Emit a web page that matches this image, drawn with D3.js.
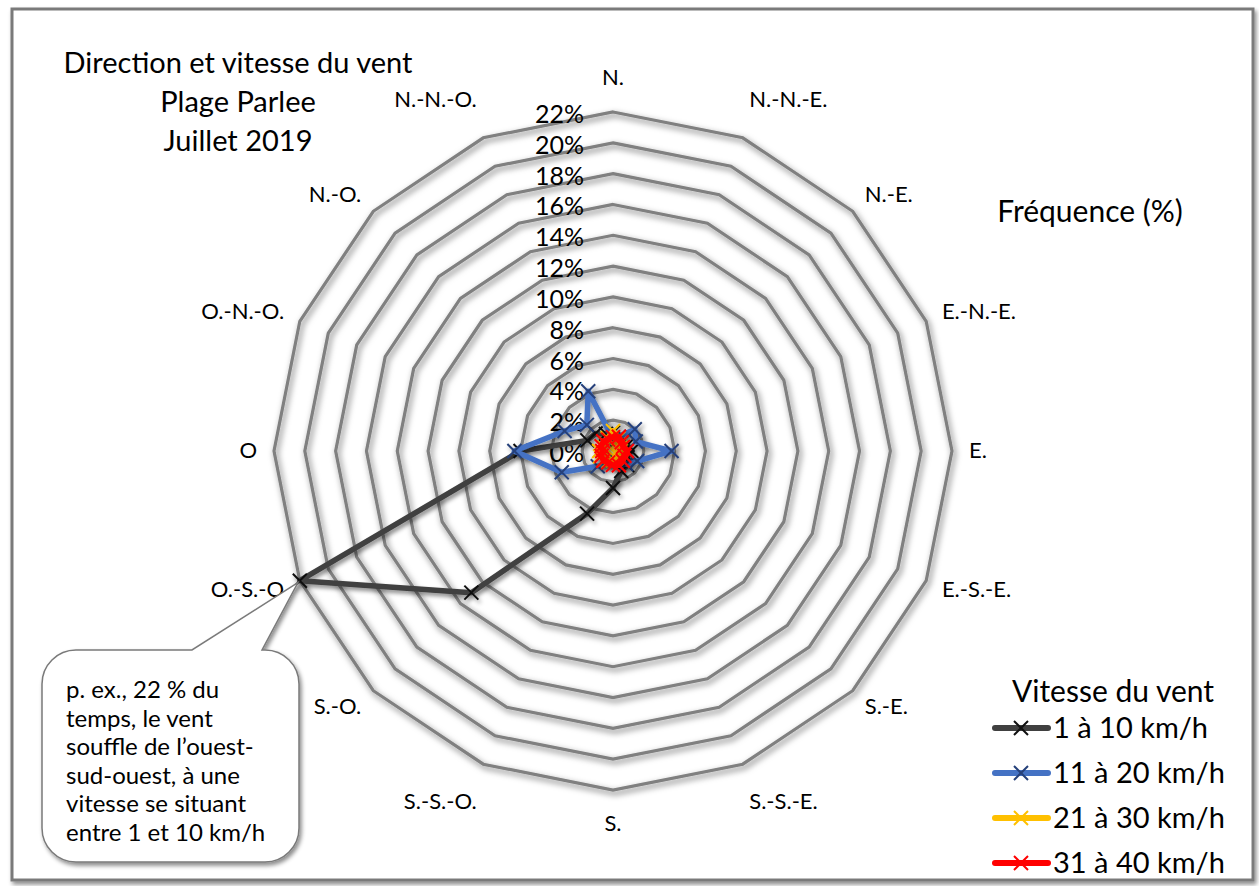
<!DOCTYPE html>
<html><head><meta charset="utf-8">
<script src="https://cdn.jsdelivr.net/npm/d3@7/dist/d3.min.js"></script>
<style>
html,body{margin:0;padding:0;background:#fff;}
svg{display:block;font-family:Lato,"Noto Sans",sans-serif;}
</style></head>
<body>
<svg id="chart" width="1259" height="886"></svg>
<script>
// ---- data ----
const directions = ["N.","N.-N.-E.","N.-E.","E.-N.-E.","E.","E.-S.-E.","S.-E.","S.-S.-E.","S.","S.-S.-O.","S.-O.","O.-S.-O","O","O.-N.-O.","N.-O.","N.-N.-O."];
const seriesNames = ["1 à 10 km/h","11 à 20 km/h","21 à 30 km/h","31 à 40 km/h"];
const speed1to10  = [1.2, 0.8, 0.9, 1.0, 1.2, 1.0, 1.3, 1.4, 2.4, 4.4, 13.0, 22.0, 6.0, 1.8, 1.6, 1.2];
const speed11to20 = [0.8, 1.0, 2.0, 1.6, 3.8, 1.7, 1.2, 0.6, 0.5, 0.8, 1.4, 3.6, 6.4, 3.4, 2.4, 4.2];
const speed21to30 = [1.3, 0.9, 0.6, 0.5, 0.5, 0.4, 0.4, 0.5, 0.6, 0.7, 0.8, 0.9, 0.9, 0.6, 0.7, 0.9];
const speed31to40 = [0.9, 1.0, 0.8, 0.7, 0.9, 0.8, 0.9, 1.0, 0.9, 0.8, 0.9, 0.8, 0.7, 0.8, 0.9, 0.8];
const tickValues = [0,2,4,6,8,10,12,14,16,18,20,22];
const tickLabels = ["0%","2%","4%","6%","8%","10%","12%","14%","16%","18%","20%","22%"];
const titleLines = ["Direction et vitesse du vent","Plage Parlee","Juillet 2019"];
const calloutLines = ["p. ex., 22 % du","temps, le vent","souffle de l’ouest-","sud-ouest, à une","vitesse se situant","entre 1 et 10 km/h"];

const seriesData = [speed1to10, speed11to20, speed21to30, speed31to40];
const lineColors = ["#404040","#4472C4","#FFC000","#FF0000"];
const markColors = ["#111111","#25407A","#FFC000","#FF0000"];

// ---- layout ----
const svg = d3.select("#chart");
const cx = 613, cy = 451, R = 339;

const defs = svg.append("defs");
const f = defs.append("filter").attr("id","shadow").attr("x","-20%").attr("y","-20%").attr("width","140%").attr("height","140%");
f.append("feDropShadow").attr("dx",2).attr("dy",3).attr("stdDeviation",3).attr("flood-color","#000").attr("flood-opacity",0.55);
const f2 = defs.append("filter").attr("id","shadow2").attr("x","-20%").attr("y","-20%").attr("width","140%").attr("height","140%");
f2.append("feDropShadow").attr("dx",2).attr("dy",3).attr("stdDeviation",2).attr("flood-color","#000").attr("flood-opacity",0.45);

// frame
svg.append("rect").attr("x",12).attr("y",9).attr("width",1241).attr("height",871)
  .attr("fill","#fff").attr("stroke","#7a7a7a").attr("stroke-width",3).attr("filter","url(#shadow2)");

const r = d3.scaleLinear().domain([0,22]).range([0,R]);
const angle = d3.scalePoint().domain(directions).range([0, 2*Math.PI*(15/16)]);
const pt = (d,v) => [cx + r(v)*Math.sin(angle(d)), cy - r(v)*Math.cos(angle(d))];

const g = svg.append("g");

// rings
const rings = tickValues.filter(v => v > 0);
g.selectAll("path.ring").data(rings).join("path")
  .attr("class","ring")
  .attr("d", v => d3.line()(directions.map(d => pt(d,v))) + "Z")
  .attr("fill","none").attr("stroke","#808080").attr("stroke-width",3.2)
  .attr("stroke-linejoin","miter").attr("filter","url(#shadow)");

// tick labels
g.selectAll("text.tick").data(tickValues).join("text")
  .attr("class","tick")
  .attr("x", cx - 29).attr("y", v => cy - r(v) + 11)
  .attr("text-anchor","end").attr("font-size",25).attr("fill","#000")
  .text((v,i) => tickLabels[i]);

// category labels
directions.forEach(d => {
  const a = angle(d);
  const s = Math.sin(a), c = Math.cos(a);
  const lr = R + 17;
  let x = cx + lr*s, y = cy - lr*c;
  let anchor = Math.abs(s) < 0.2 ? "middle" : (s > 0 ? "start" : "end");
  let dy = 7;
  if (c > 0.9) dy = -10;
  if (c < -0.9) dy = 24;
  g.append("text").attr("x",x).attr("y",y + dy + (Math.abs(s)>=0.2 ? 6*(-c) : 0))
    .attr("text-anchor",anchor).attr("font-size",22).attr("fill","#000").text(d);
});

// series
const line = d3.line().curve(d3.curveLinearClosed);
seriesData.forEach((vals, i) => {
  const pts = directions.map((d,j) => pt(d, vals[j]));
  const sg = g.append("g").attr("filter","url(#shadow2)");
  sg.append("path").attr("d", line(pts)).attr("fill","none")
    .attr("stroke", lineColors[i]).attr("stroke-width", 5.5).attr("stroke-linejoin","round");
  const m = 7;
  sg.selectAll("path.mk").data(pts).join("path").attr("class","mk")
    .attr("d", p => `M${p[0]-m},${p[1]-m}L${p[0]+m},${p[1]+m}M${p[0]-m},${p[1]+m}L${p[0]+m},${p[1]-m}`)
    .attr("stroke", markColors[i]).attr("stroke-width", 2).attr("fill","none");
});

// title
svg.selectAll("text.title").data(titleLines).join("text").attr("class","title")
  .attr("x",238).attr("y",(d,i)=>73 + i*39).attr("text-anchor","middle")
  .attr("font-size",29).attr("fill","#000").text(d=>d);

svg.append("text").attr("x",1090).attr("y",222).attr("text-anchor","middle")
  .attr("font-size",30).attr("fill","#000").text("Fréquence (%)");

// legend
const lg = svg.append("g");
lg.append("text").attr("x",1113).attr("y",702).attr("text-anchor","middle")
  .attr("font-size",30).attr("fill","#000").text("Vitesse du vent");
seriesNames.forEach((n,i) => {
  const y = 728 + i*45;
  lg.append("line").attr("x1",995).attr("x2",1048).attr("y1",y).attr("y2",y)
    .attr("stroke",lineColors[i]).attr("stroke-width",6).attr("stroke-linecap","round");
  const xm = 1021, m = 7;
  lg.append("path").attr("d",`M${xm-m},${y-m}L${xm+m},${y+m}M${xm-m},${y+m}L${xm+m},${y-m}`)
    .attr("stroke",markColors[i]).attr("stroke-width",2);
  lg.append("text").attr("x",1053).attr("y",y+10).attr("font-size",29).attr("fill","#000").text(n);
});

// callout
const tip = pt("O.-S.-O", speed1to10[directions.indexOf("O.-S.-O")]);
const bx0 = 42, by0 = 650, bx1 = 299, by1 = 862, rr = 34;
const tl = 192, tr = 262;
const cp = d3.path();
cp.moveTo(bx0+rr, by0);
cp.lineTo(tl, by0);
cp.lineTo(tip[0]-2, tip[1]+2);
cp.lineTo(tr, by0);
cp.lineTo(bx1-rr, by0);
cp.arcTo(bx1, by0, bx1, by0+rr, rr);
cp.lineTo(bx1, by1-rr);
cp.arcTo(bx1, by1, bx1-rr, by1, rr);
cp.lineTo(bx0+rr, by1);
cp.arcTo(bx0, by1, bx0, by1-rr, rr);
cp.lineTo(bx0, by0+rr);
cp.arcTo(bx0, by0, bx0+rr, by0, rr);
cp.closePath();
svg.append("path").attr("d",cp.toString()).attr("fill","#fff").attr("stroke","#7a7a7a")
  .attr("stroke-width",1.5).attr("filter","url(#shadow2)");
svg.selectAll("text.co").data(calloutLines).join("text").attr("class","co")
  .attr("x",66).attr("y",(d,i)=>698 + i*28.6).attr("font-size",24).attr("fill","#000").text(d=>d);
</script>
</body></html>
